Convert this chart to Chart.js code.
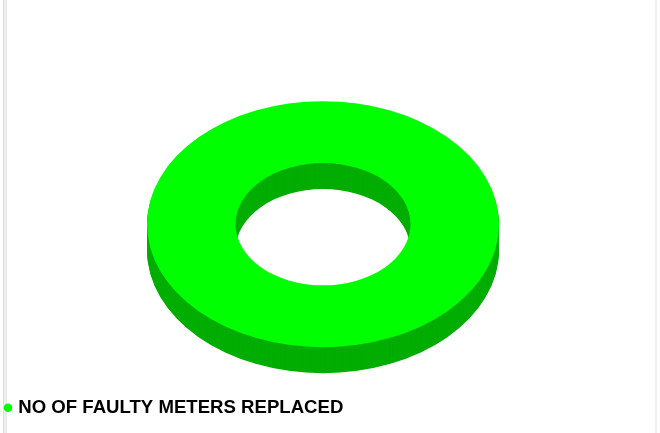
<!DOCTYPE html>
<html>
<head>
<meta charset="utf-8">
<style>
  html, body { margin: 0; padding: 0; background: #fff; overflow: hidden; }
  #wrap { position: relative; width: 660px; height: 433px; }
  #edgeL { position: absolute; left: 3px; top: 0; width: 4px; height: 433px;
           background: linear-gradient(to right, #dcdcdc 25%, #eeeeee 25%, #eeeeee 75%, #e6e6e6 75%); }
  #edgeR { position: absolute; left: 655px; top: 0; width: 2px; height: 433px; background: #f0f0f0; }
  canvas { position: absolute; left: 0; top: 0; }
</style>
<script src="https://cdn.jsdelivr.net/npm/chart.js@4"></script>
</head>
<body>
<div id="wrap">
  <div id="edgeL"></div>
  <div id="edgeR"></div>
  <canvas id="myChart" width="660" height="433"></canvas>
</div>
<script>
const labels = ["NO OF FAULTY METERS REPLACED"];
const values = [100];
const colors = ["#00ff00"];
const wallColors = ["#00ad00"];

// doughnut is always round, so squash it and stack darker copies for the 3d look
const ringW = 176, ringH = 123, depth = 26;

const tilt3d = {
    id: 'tilt3d',
    beforeDatasetDraw(chart, args) {
        const ctx = chart.ctx;
        const arc = args.meta.data[0];
        const squash = () => {
            ctx.translate(arc.x, arc.y);
            ctx.scale(ringW / arc.outerRadius, ringH / arc.outerRadius);
            ctx.translate(-arc.x, -arc.y);
        };
        const wall = new Chart.ArcElement({
            x: arc.x, y: arc.y,
            startAngle: arc.startAngle, endAngle: arc.endAngle,
            circumference: arc.circumference,
            innerRadius: arc.innerRadius, outerRadius: arc.outerRadius
        });
        wall.options = { backgroundColor: wallColors[0], borderColor: wallColors[0], borderWidth: 0,
            borderAlign: 'center', borderRadius: 0, spacing: 0, offset: 0, circular: true };
        for (let d = depth; d > 0; d--) {
            ctx.save();
            ctx.translate(0, d);
            squash();
            wall.draw(ctx);
            ctx.restore();
        }
        ctx.save();
        squash();
    },
    afterDatasetDraw(chart) {
        chart.ctx.restore();
    }
};

new Chart(document.getElementById('myChart').getContext('2d'), {
    type: 'doughnut',
    data: {
        labels: labels,
        datasets: [{ data: values, backgroundColor: colors, borderWidth: 0, cutout: '49.7%', clip: false }]
    },
    options: {
        responsive: false,
        animation: false,
        layout: { padding: { top: 57, right: 14, left: 0, bottom: 6 } },
        plugins: {
            tooltip: { enabled: false },
            legend: {
                position: 'bottom',
                align: 'start',
                labels: {
                    usePointStyle: true,
                    boxWidth: 2,
                    boxHeight: 6,
                    padding: 7,
                    color: '#000',
                    font: { family: '"Liberation Sans", Arial, sans-serif', size: 18.6, weight: 'bold' }
                }
            }
        }
    },
    plugins: [tilt3d]
});
</script>
</body>
</html>
